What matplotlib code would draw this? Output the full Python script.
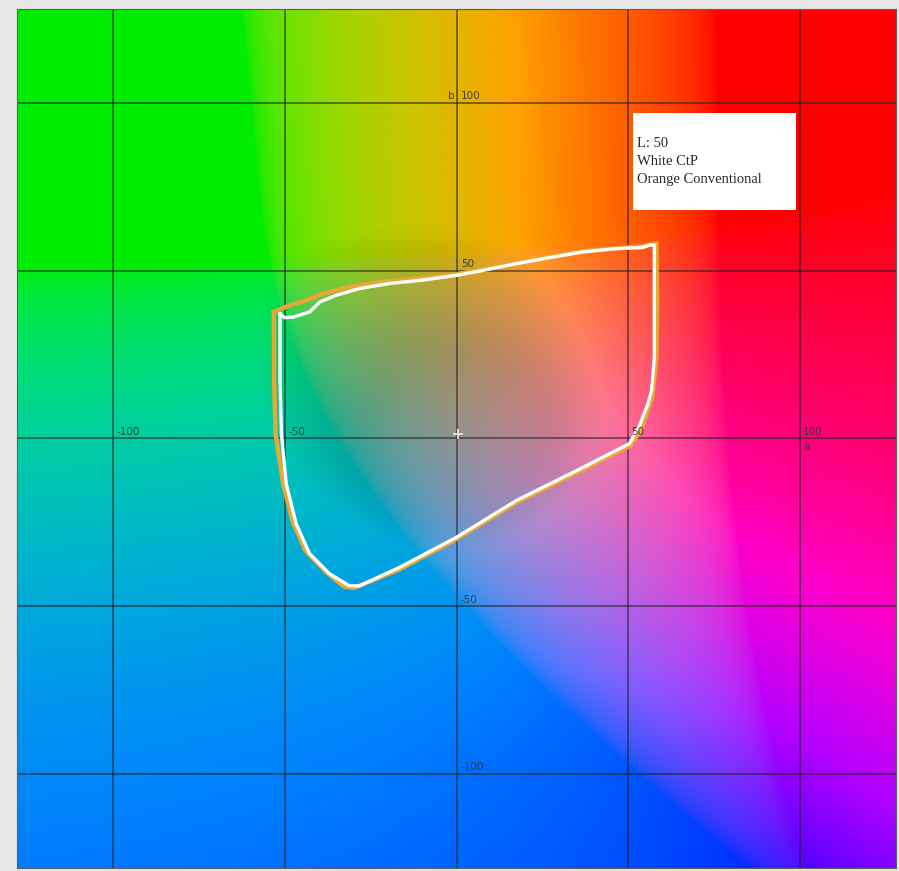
import numpy as np
import matplotlib
matplotlib.use('Agg')
import matplotlib.pyplot as plt
from matplotlib.patches import Rectangle

L_STAR = 50

# gamut outline, White CtP (a*, b*)
ctp_a = [-51.4, -50.1, -47.5, -42.8, -39.8, -35.0, -28.2, -19.5, -9.8, 0.4, 7.7, 17.4,
         27.1, 36.8, 46.5, 54.2, 56.2, 57.6, 57.6, 57.6, 56.8, 55.6, 53.3, 51.2, 50.4,
         36.7, 17.4, -0.1, -16.6, -28.2, -31.2, -37.0, -42.8, -46.7, -49.6, -51.0, -51.4]
ctp_b = [37.2, 36.0, 36.2, 37.7, 40.7, 42.7, 44.7, 46.2, 47.2, 48.7, 50.1, 52.1,
         53.9, 55.6, 56.6, 56.9, 57.6, 57.6, 41.2, 24.2, 14.3, 9.9, 3.9, 0.0, -1.5,
         -8.7, -18.5, -29.5, -38.4, -43.9, -43.9, -40.3, -34.3, -25.4, -13.4, 1.5, 17.3]

# gamut outline, Orange Conventional (a*, b*)
conv_a = [-53.2, -48.6, -43.7, -38.8, -31.1, -21.3, -9.9, 0.3, 17.4, 36.8, 54.1, 58.2,
          58.4, 58.2, 57.1, 53.9, 50.7, 36.7, 17.4, -0.1, -16.6, -29.7, -32.6, -37.8,
          -44.0, -47.7, -50.5, -52.7, -53.1]
conv_b = [37.7, 39.7, 41.2, 43.2, 45.2, 46.7, 47.8, 49.0, 52.4, 55.8, 57.3, 58.2,
          41.2, 24.2, 12.8, 3.0, -2.1, -9.3, -19.1, -30.0, -39.0, -44.5, -44.2, -40.0,
          -33.4, -24.8, -13.4, 1.5, 17.3]

grid_ticks = [-100, -50, 0, 50, 100]
legend_lines = ["L: 50", "White CtP", "Orange Conventional"]

LIM = 128


def finv(t):
    d = 6 / 29
    return np.where(t > d, t ** 3, 3 * d * d * (t - 4 / 29))


def lab_plane(L, a, b, ceiling=0.6):
    # Lab (D65) -> linear sRGB; clipped colours get brightened with chroma,
    # capped by the brightest channel and by a weighted brightness ceiling
    fy = (L + 16) / 116
    X = 0.95047 * finv(fy + a / 500)
    Y = finv(fy) * np.ones_like(a)
    Z = 1.08883 * finv(fy - b / 200)
    M = np.array([[3.2406, -1.5372, -0.4986],
                  [-0.9689, 1.8758, 0.0415],
                  [0.0557, -0.2040, 1.0570]])
    rgb = np.clip(np.stack([X, Y, Z], -1) @ M.T, 0, None)
    peak = rgb.max(-1)
    bright = rgb @ np.array([0.35, 0.7152, 0.45])
    c = np.hypot(a, b)
    boost = 1.55 + 3.5 * np.clip((c - 25) / 80, 0, None) ** 1.5
    s = np.minimum(np.minimum(1 / peak, ceiling / bright), boost)
    lin = np.clip(rgb * s[..., None], 0, 1)
    return np.where(lin <= 0.0031308, 12.92 * lin, 1.055 * lin ** (1 / 2.4) - 0.055)


fig = plt.figure(figsize=(8.99, 8.71), dpi=100, facecolor='#e6e6e6')
ax = fig.add_axes([17 / 899, 3 / 871, 879 / 899, 859 / 871])

n = 600
av = np.linspace(-LIM, LIM, n)
bv = np.linspace(LIM, -LIM, n)
A, B = np.meshgrid(av, bv)
ax.imshow(lab_plane(L_STAR, A, B), extent=(-LIM, LIM, -LIM, LIM), origin='upper',
          interpolation='bilinear', aspect='auto')

for t in grid_ticks:
    ax.axvline(t, color='#202020', alpha=0.55, lw=1.4)
    ax.axhline(t, color='#202020', alpha=0.55, lw=1.4)

lbl = dict(fontsize=7.5, color='#333333', alpha=0.9, family='DejaVu Sans')
for t in grid_ticks:
    if t == 0:
        continue
    ax.text(t + 1.0, 0.5, str(t), ha='left', va='bottom', **lbl)
    ax.text(1.3, t + 0.5, str(t), ha='left', va='bottom', **lbl)
ax.text(-0.6, 100.5, 'b', ha='right', va='bottom', **lbl)
ax.text(101.0, -1.0, 'a', ha='left', va='top', **lbl)
ax.plot([0.5], [1.2], marker='+', color='#f4f0e0', ms=7, mew=1.2)

ax.plot(conv_a + conv_a[:1], conv_b + conv_b[:1], color='#e9a834', lw=3.2,
        solid_joinstyle='round')
ax.plot(ctp_a + ctp_a[:1], ctp_b + ctp_b[:1], color='white', lw=2.4,
        solid_joinstyle='round')

ax.add_patch(Rectangle((51.5, 68.1), 47.5, 28.9, facecolor='white', edgecolor='none'))
for i, line in enumerate(legend_lines):
    ax.text(52.7, 88.0 - 5.4 * i, line, fontsize=10.5, color='#2a2a2a',
            family='Liberation Serif', ha='left', va='center')

ax.set_xlim(-LIM, LIM)
ax.set_ylim(-LIM, LIM)
ax.set_xticks([])
ax.set_yticks([])
for s in ax.spines.values():
    s.set_color('#606060')
    s.set_linewidth(0.8)

fig.savefig('out.png', dpi=100, facecolor=fig.get_facecolor())
